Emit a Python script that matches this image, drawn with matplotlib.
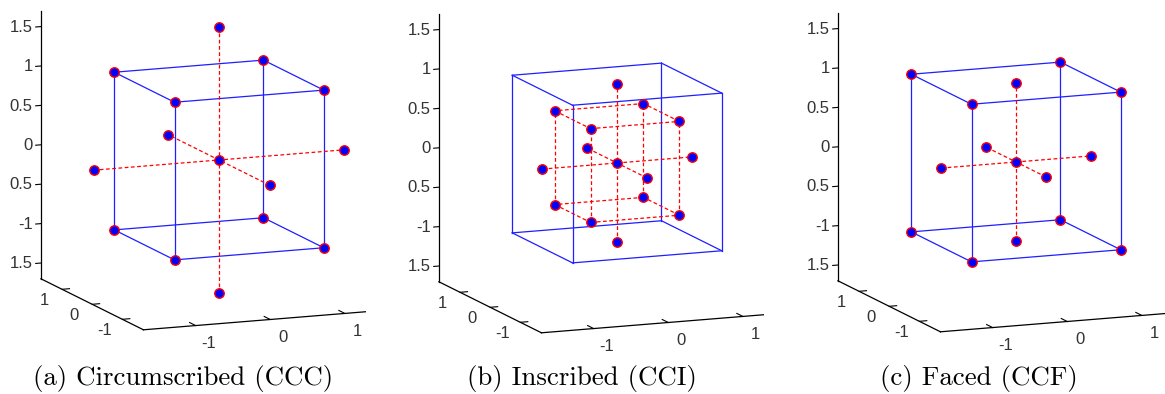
import matplotlib
matplotlib.use("Agg")
import numpy as np
import matplotlib.pyplot as plt
from matplotlib.ticker import NullLocator
from matplotlib.transforms import Bbox, TransformedBbox

plt.rcParams['axes.unicode_minus'] = False

# design parameters for the three central composite designs
titles = ["(a) Circumscribed (CCC)", "(b) Inscribed (CCI)", "(c) Faced (CCF)"]
cube_half = [1.0, 0.595, 1.0]      # half-width of the factorial cube
star_dist = [1.682, 1.0, 1.0]      # axial (star) point distance
outer_box = [False, True, False]   # CCI shows the +-1 region as a plain box

# cube corners (sign pattern) and the 12 edges between them
corner_signs = [(-1, -1, -1), (1, -1, -1), (1, 1, -1), (-1, 1, -1),
                (-1, -1, 1), (1, -1, 1), (1, 1, 1), (-1, 1, 1)]
edges = [(0, 1), (1, 2), (2, 3), (3, 0), (4, 5), (5, 6), (6, 7), (7, 4),
         (0, 4), (1, 5), (2, 6), (3, 7)]
# axial directions
star_dirs = [(-1, 0, 0), (1, 0, 0), (0, -1, 0), (0, 1, 0), (0, 0, -1), (0, 0, 1)]

xy_ticks = [-1, 0, 1]
xy_labels = ["-1", "0", "1"]
z_ticks = [-1.5, -1, -0.5, 0, 0.5, 1, 1.5]
z_labels = ["1.5", "-1", "0.5", "0", "0.5", "1", "1.5"]

lim = 1.7
W, H = 1165, 394
fig = plt.figure(figsize=(W / 100, H / 100), dpi=100)

centers = [(219, 160), (617, 163), (1016, 162)]
cap_x = [183, 582, 979]
xaxis_end = [366, 764, 1165]   # the subfigures were cropped on the right
S = 460

dash = (0, (3, 2))
tick_font = dict(fontsize=12, color='#333333', fontfamily='Liberation Sans')
tick_style = dict(color='black', lw=0.8, zorder=0)


def label_at(ax, x, y, z, s, **kw):
    # put a flat 2D label at the projected position of a 3D point
    v = ax.get_proj() @ np.array([x, y, z, 1.0])
    ax.text2D(v[0] / v[3], v[1] / v[3], s, transform=ax.transData,
              **tick_font, **kw)


for i in range(3):
    cx, cy = centers[i]
    left = cx - 0.5135 * S
    bottom = (H - cy) - 0.5135 * S
    ax = fig.add_axes([left / W, bottom / H, S / W, S / H], projection='3d',
                      computed_zorder=False)
    ax.patch.set_alpha(0)
    ax.set_proj_type('ortho')
    ax.view_init(elev=11.6, azim=-112)
    ax.set_box_aspect((1, 1, 1), zoom=1.0)
    ax.set_xlim(-lim, lim)
    ax.set_ylim(-lim, lim)
    ax.set_zlim(-lim, lim)
    ax.grid(False)

    h = cube_half[i]
    a = star_dist[i]
    corners = [(sx * h, sy * h, sz * h) for sx, sy, sz in corner_signs]

    # plain blue box for the CCI design region
    if outer_box[i]:
        box = [(sx, sy, sz) for sx, sy, sz in corner_signs]
        for p, q in edges:
            ax.plot([box[p][0], box[q][0]], [box[p][1], box[q][1]],
                    [box[p][2], box[q][2]], color='#1f1fff', lw=0.9, zorder=1)
        cube_style = dict(color='red', lw=0.9, ls=dash)
    else:
        cube_style = dict(color='#1f1fff', lw=0.9)

    for p, q in edges:
        ax.plot([corners[p][0], corners[q][0]], [corners[p][1], corners[q][1]],
                [corners[p][2], corners[q][2]], zorder=2, **cube_style)

    # axial lines through the center
    for k in range(3):
        d0 = star_dirs[2 * k]
        d1 = star_dirs[2 * k + 1]
        ax.plot([d0[0] * a, d1[0] * a], [d0[1] * a, d1[1] * a],
                [d0[2] * a, d1[2] * a], color='red', lw=0.9, ls=dash, zorder=2)

    pts = corners + [(d[0] * a, d[1] * a, d[2] * a) for d in star_dirs] + [(0, 0, 0)]
    ax.plot([p[0] for p in pts], [p[1] for p in pts], [p[2] for p in pts],
            ls='none', marker='o', ms=6.8, mfc='blue', mec='red', mew=1.0,
            zorder=5)

    for axis in (ax.xaxis, ax.yaxis, ax.zaxis):
        axis.set_pane_color((1, 1, 1, 0))
        axis.line.set_color('black')
        axis.line.set_linewidth(0.9)
        axis.set_major_locator(NullLocator())

    clip = TransformedBbox(Bbox([[0, 0], [xaxis_end[i] / W, 1]]), fig.transFigure)
    ax.xaxis.line.set_clip_box(clip)
    ax.xaxis.line.set_clip_on(True)

    # MATLAB-style ticks and tick labels
    for t, s in zip(xy_ticks, xy_labels):
        ax.plot([t, t], [-lim, -lim + 0.2], [-lim, -lim], **tick_style)
        label_at(ax, t, -lim - 0.43, -lim - 0.13, s, ha='center',
                 va='center_baseline')
        ax.plot([-lim, -lim + 0.1], [t, t], [-lim, -lim], **tick_style)
        label_at(ax, -lim - 0.24, t, -lim - 0.11, s, ha='center',
                 va='center_baseline')
    for t, s in zip(z_ticks, z_labels):
        ax.plot([-lim, -lim - 0.07], [lim, lim], [t, t], **tick_style)
        label_at(ax, -lim - 0.11, lim, t, s, ha='right', va='center')

    fig.text(cap_x[i] / W, 15 / H, titles[i], ha='center', va='center',
             fontsize=19.4, fontfamily='cmr10')

fig.savefig("out.png", dpi=100)
